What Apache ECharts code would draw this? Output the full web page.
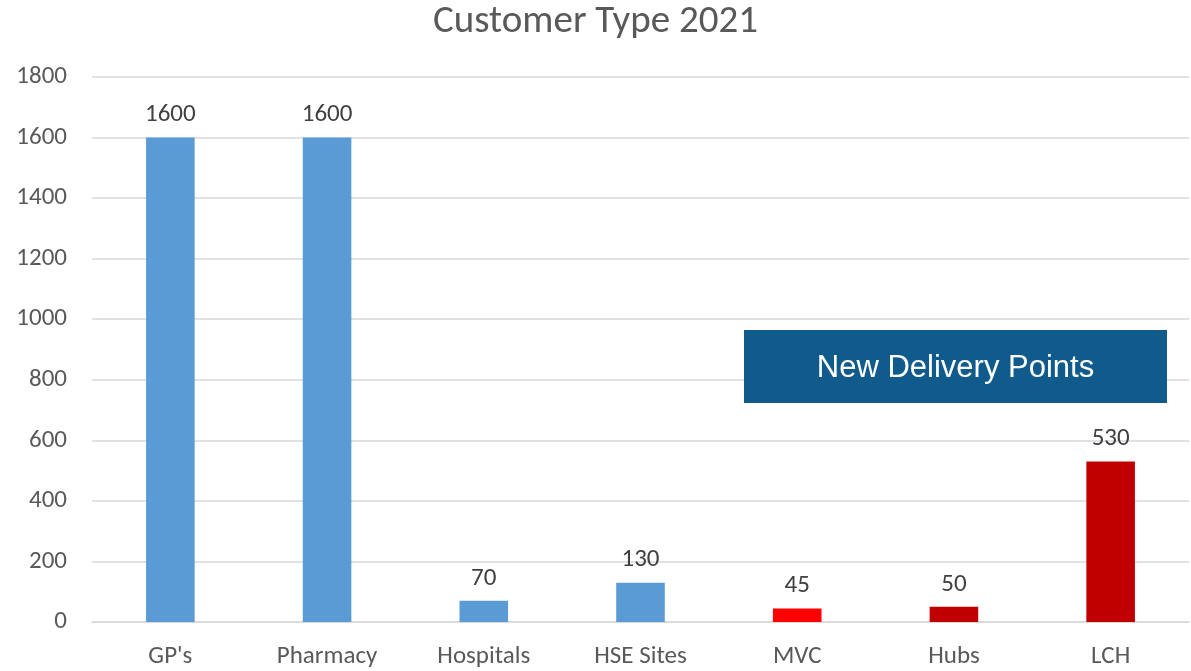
<!DOCTYPE html>
<html>
<head>
<meta charset="utf-8">
<script src="https://cdn.jsdelivr.net/npm/echarts@6/dist/echarts.min.js"></script>
<style>
html,body{margin:0;padding:0;background:#fff;}
#chart{width:1191px;height:671px;}
</style>
</head>
<body>
<div id="chart"></div>
<script>
// ---- data ----
const categories = ["GP's", "Pharmacy", "Hospitals", "HSE Sites", "MVC", "Hubs", "LCH"];
const values = [1600, 1600, 70, 130, 45, 50, 530];
const yTicks = [0, 200, 400, 600, 800, 1000, 1200, 1400, 1600, 1800];
const titleText = "Customer Type 2021";
const boxText = "New Delivery Points";

// ---- style ----
const colorFor = {
  "MVC": "#FF0000",
  "Hubs": "#C00000",
  "LCH": "#C00000"
};
const defaultColor = "#5B9BD5";
const font = "Calibri, Carlito, 'Open Sans', 'Liberation Sans', sans-serif";

const chart = echarts.init(document.getElementById('chart'));
chart.setOption({
  animation: false,
  backgroundColor: '#fff',
  title: {
    text: titleText,
    left: 'center',
    top: -2,
    textStyle: { fontFamily: font, fontSize: 39, fontWeight: 'normal', color: '#595959' }
  },
  grid: { left: 92, right: 2, top: 77, bottom: 49, containLabel: false },
  xAxis: {
    type: 'category',
    data: categories,
    axisLine: { show: true, lineStyle: { color: '#D9D9D9', width: 1.5 } },
    axisTick: { show: false },
    axisLabel: { fontFamily: font, fontSize: 25, color: '#595959', margin: 22 }
  },
  yAxis: {
    type: 'value',
    min: yTicks[0],
    max: yTicks[yTicks.length - 1],
    interval: yTicks[1] - yTicks[0],
    axisLine: { show: false },
    axisTick: { show: false },
    splitLine: { lineStyle: { color: '#D9D9D9', width: 1.5 } },
    axisLabel: { fontFamily: font, fontSize: 25, color: '#595959', margin: 25, formatter: v => String(v) }
  },
  series: [{
    type: 'bar',
    data: values.map((v, i) => ({
      value: v,
      itemStyle: { color: colorFor[categories[i]] || defaultColor }
    })),
    barWidth: '31%',
    label: {
      show: true,
      position: 'top',
      distance: 10,
      fontFamily: font,
      fontSize: 25,
      color: '#404040'
    }
  }],
  graphic: [{
    type: 'group',
    left: 744,
    top: 330,
    z: 100,
    children: [
      { type: 'rect', z: 100, shape: { x: 0, y: 0, width: 423, height: 73 }, style: { fill: '#115B8C' } },
      { type: 'text', z: 101, x: 211.5, y: 38, style: { text: boxText, fill: '#fff', fontSize: 31, fontFamily: "Arial, 'Liberation Sans', sans-serif", align: 'center', verticalAlign: 'middle' } }
    ]
  }]
});
</script>
</body>
</html>
